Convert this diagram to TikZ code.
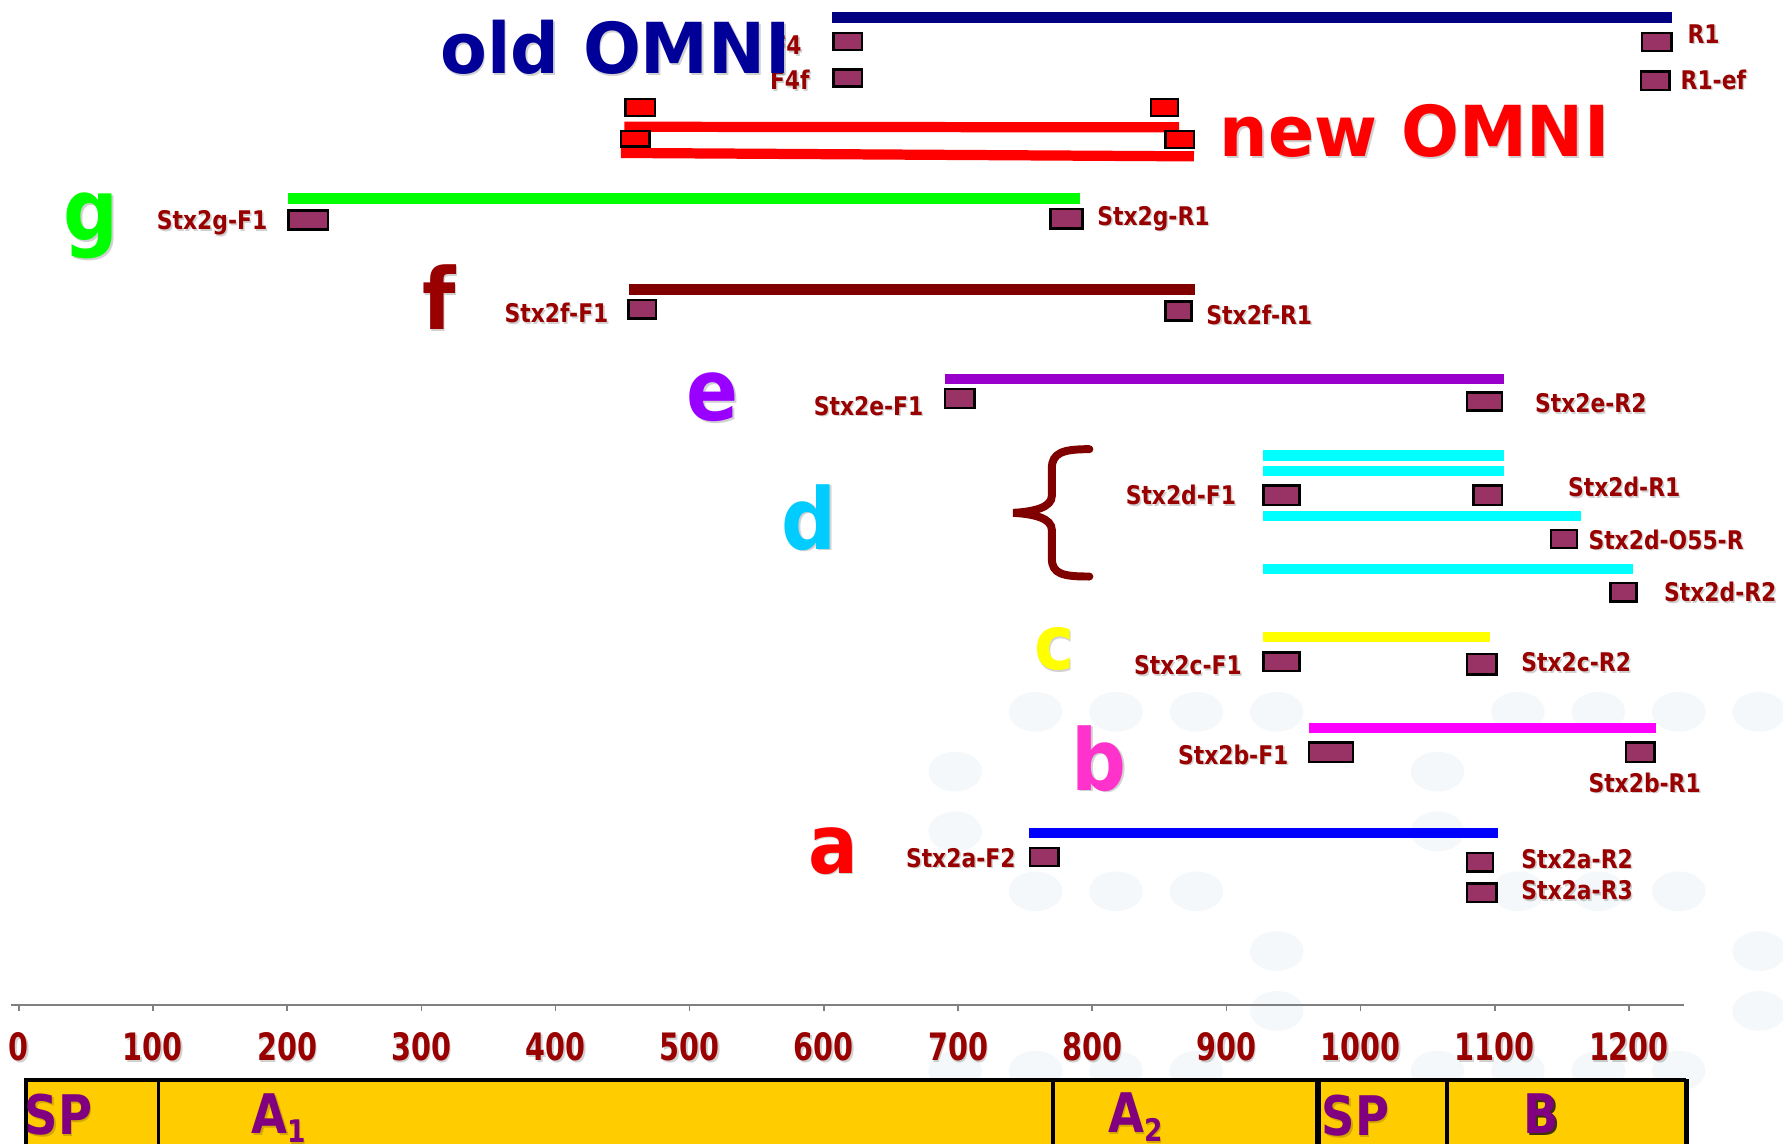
\documentclass[tikz,border=0pt]{standalone}
\usepackage{fontspec}
\usetikzlibrary{calc}
% condensed cuts of DejaVu Sans for the different text roles
\newfontfamily\lblfont[FakeStretch=0.85]{DejaVu Sans}
\newfontfamily\numfont[FakeStretch=0.76]{DejaVu Sans}
\newfontfamily\bigfont[FakeStretch=0.9]{DejaVu Sans}
\newfontfamily\ttlfont[FakeStretch=0.97]{DejaVu Sans}

\definecolor{lblred}{HTML}{990000}
\definecolor{primerfill}{HTML}{993366}
\definecolor{navyline}{HTML}{000080}
\definecolor{oldnavy}{HTML}{000099}
\definecolor{maroon}{HTML}{800000}
\definecolor{brightred}{HTML}{FF0000}
\definecolor{gcol}{HTML}{00FF00}
\definecolor{ecol}{HTML}{9900FF}
\definecolor{eline}{HTML}{9900CC}
\definecolor{dcol}{HTML}{00CCFF}
\definecolor{dline}{HTML}{00FFFF}
\definecolor{ccol}{HTML}{FFFF00}
\definecolor{bcol}{HTML}{FF33CC}
\definecolor{bline}{HTML}{FF00FF}
\definecolor{aline}{HTML}{0000FF}
\definecolor{segfill}{HTML}{FFCC00}
\definecolor{segpurple}{HTML}{800080}
\definecolor{dotbg}{RGB}{245,248,250}

% text node with a soft drop shadow: name, options, position, text
\newcommand\shtxt[4]{%
  \node[#2,shade] (#1s) at ($(#3)+(1.4,1.4)$) {#4};
  \node[#2] (#1) at (#3) {#4};}

\begin{document}
\begin{tikzpicture}[x=0.5pt,y=-0.5pt,
  txt/.style={inner sep=0pt, outer sep=0pt},
  shade/.style={text=black, opacity=0.18},
  lbl/.style={txt, text=lblred, font=\lblfont\bfseries\fontsize{11.3}{13}\selectfont},
  lblL/.style={lbl, anchor=base west},
  lblR/.style={lbl, anchor=base east},
  num/.style={txt, anchor=base, text=lblred, font=\numfont\bfseries\fontsize{16.6}{18}\selectfont},
  big/.style={txt, anchor=base, font=\bigfont\bfseries\fontsize{37.5}{40}\selectfont},
  ttl/.style={txt, anchor=base, font=\ttlfont\bfseries\fontsize{30.9}{34}\selectfont},
  seg/.style={txt, anchor=base, text=segpurple, font=\lblfont\bfseries\fontsize{24}{26}\selectfont},
  primer/.style={draw=black, line width=1.1pt, fill=primerfill},
  newprimer/.style={draw=black, line width=1.1pt, fill=brightred},
  amplicon/.style={line width=4.5pt},
  axisline/.style={draw=gray, line width=0.7pt},
  brace/.style={draw=maroon, line width=3.5pt, line cap=round},
  segline/.style={draw=black, line width=1.5pt}]

\useasboundingbox (0,0) rectangle (1568,1006);
\clip (0,0) rectangle (1568,1006);
\fill[white] (0,0) rectangle (1568,1006);

% faint dotted background pattern
\foreach \c/\r in {1/0,2/0,3/0,4/0,7/0,8/0,9/0,10/0,
                   0/1,6/1,0/2,6/2,
                   1/3,2/3,3/3,7/3,8/3,9/3,
                   4/4,10/4,4/5,10/5,
                   0/6,1/6,2/6,3/6,6/6,7/6,8/6,9/6}
  \fill[dotbg] ({840+70.7*\c},{626+52.6*\r}) ellipse [x radius=11.75pt, y radius=8.75pt];

% ---------- old OMNI ----------
\draw[amplicon, navyline, line width=4.85pt] (732,15) -- (1470,15);
\draw[primer] (733,29) rectangle (758,44);
\draw[primer] (733,61) rectangle (758,76);
\draw[primer] (1444,29) rectangle (1470,45);
\draw[primer] (1443,63) rectangle (1468,79);
\shtxt{F4l}{lblR}{705,48}{F4}
\shtxt{F4fl}{lblR}{712,79}{F4f}
\shtxt{R1l}{lblL}{1484,38}{R1}
\shtxt{R1efl}{lblL}{1478,78.5}{R1-ef}
\shtxt{oldomni}{ttl, text=oldnavy}{541.5,65}{old OMNI}

% ---------- new OMNI ----------
\draw[amplicon, brightred] (549,111.5) -- (1037,112);
\draw[amplicon, brightred] (546,134.5) -- (1050,137.5);
\draw[newprimer] (550,87) rectangle (576,102);
\draw[newprimer] (546,115) rectangle (571,129);
\draw[newprimer] (1012,87) rectangle (1036,102);
\draw[newprimer] (1025,115) rectangle (1050,130);
\shtxt{newomni}{ttl, text=brightred}{1244,137.8}{new OMNI}

% ---------- g ----------
\draw[amplicon, gcol] (253,174.5) -- (950,174.5);
\draw[primer] (253.5,185) rectangle (288.6,202);
\draw[primer] (924,184) rectangle (952,201);
\shtxt{gletter}{big, text=gcol}{80,211.5}{g}
\shtxt{gF1}{lblR}{235,202}{Stx2g-F1}
\shtxt{gR1}{lblL}{965,198}{Stx2g-R1}

% ---------- f ----------
\draw[amplicon, maroon] (553,254.5) -- (1051,254.5);
\draw[primer] (552.5,264) rectangle (577,280);
\draw[primer] (1025,265) rectangle (1048,282);
\shtxt{fletter}{big, text=lblred}{386,290}{f}
\shtxt{fF1}{lblR}{535,284}{Stx2f-F1}
\shtxt{fR1}{lblL}{1061,285}{Stx2f-R1}

% ---------- e ----------
\draw[amplicon, eline] (831,333.5) -- (1323,333.5);
\draw[primer] (831,342) rectangle (857,359);
\draw[primer] (1290,345) rectangle (1321,361);
\shtxt{eletter}{big, text=ecol}{627,370}{e}
\shtxt{eF1}{lblR}{812,365}{Stx2e-F1}
\shtxt{eR2}{lblL}{1350,363}{Stx2e-R2}

% ---------- d ----------
\draw[amplicon, dline] (1111,400.5) -- (1323,400.5);
\draw[amplicon, dline] (1111,414) -- (1323,414);
\draw[amplicon, dline] (1111,453.5) -- (1390,453.5);
\draw[amplicon, dline] (1111,500.5) -- (1436.5,500.5);
\draw[primer] (1111,427) rectangle (1143,444);
\draw[primer] (1296,427) rectangle (1321,444);
\draw[primer] (1364,466) rectangle (1387,482);
\draw[primer] (1416.5,512.6) rectangle (1439,529);
\draw[brace] (958,395) .. controls (935,395) and (925,398) .. (925,412)
  -- (925,436) .. controls (925,446) and (910,450) .. (891,451)
  .. controls (910,452) and (925,456) .. (925,466)
  -- (925,491) .. controls (925,505) and (935,507) .. (958,507);
\shtxt{dletter}{big, text=dcol}{711.5,483}{d}
\shtxt{dF1}{lblR}{1087,444}{Stx2d-F1}
\shtxt{dR1}{lblL}{1379,437}{Stx2d-R1}
\shtxt{dO55}{lblL}{1397,483}{Stx2d-O55-R}
\shtxt{dR2}{lblL}{1463.5,529}{Stx2d-R2}

% ---------- c ----------
\draw[amplicon, ccol] (1111,560) -- (1310,560);
\draw[primer] (1111,574) rectangle (1143,590);
\draw[primer] (1290,575) rectangle (1316,593);
\shtxt{cletter}{big, text=ccol, font=\bigfont\bfseries\fontsize{33}{36}\selectfont}{927,589}{c}
\shtxt{cF1}{lblR}{1092,593.5}{Stx2c-F1}
\shtxt{cR2}{lblL}{1338,590.5}{Stx2c-R2}

% ---------- b ----------
\draw[amplicon, bline] (1151,640) -- (1456,640);
\draw[primer] (1151,653) rectangle (1190,670);
\draw[primer] (1430,653) rectangle (1455,670);
\shtxt{bletter}{big, text=bcol}{966.5,695}{b}
\shtxt{bF1}{lblR}{1133,672}{Stx2b-F1}
\shtxt{bR1}{lblL}{1397,696.5}{Stx2b-R1}

% ---------- a ----------
\draw[amplicon, aline] (904.6,732.5) -- (1317,732.5);
\draw[primer] (905.6,745.6) rectangle (931,761.7);
\draw[primer] (1290,750) rectangle (1313,766.5);
\draw[primer] (1290,777) rectangle (1316,793.4);
\shtxt{aletter}{big, text=brightred, font=\bigfont\bfseries\fontsize{36}{38}\selectfont}{732.5,768}{a}
\shtxt{aF2}{lblR}{893,762.5}{Stx2a-F2}
\shtxt{aR2}{lblL}{1338,763.5}{Stx2a-R2}
\shtxt{aR3}{lblL}{1338,791}{Stx2a-R3}

% ---------- scale ----------
\draw[axisline] (10,884) -- (1481,884);
\foreach \u in {0,100,...,1200} {
  \draw[axisline] ({16.5+1.18*\u},884) -- ++(0,5);
  \shtxt{t\u}{num}{{16.5+1.18*\u},932.8}{\u}
}

% ---------- gene segments ----------
\fill[segfill] (22.7,950) rectangle (1483,1012);
\draw[black, line width=1.8pt] (22.7,1012) -- (22.7,950) -- (1483,950);
\draw[black, line width=2.5pt] (1483,949) -- (1483,1012);
\draw[segline] (139.3,950) -- (139.3,1012);
\draw[segline] (926,950) -- (926,1012);
\draw[segline, line width=3pt] (1159,950) -- (1159,1012);
\draw[segline] (1272.6,950) -- (1272.6,1012);
\shtxt{sp1}{seg}{51.5,998}{SP}
\shtxt{a1}{seg}{245,997}{A\raisebox{-4pt}{\fontsize{13.7}{14}\selectfont 1}}
\shtxt{a2}{seg}{998.5,996}{A\raisebox{-4pt}{\fontsize{13.7}{14}\selectfont 2}}
\shtxt{sp2}{seg}{1192,999}{SP}
\node[seg, text=black, opacity=0.75] (bsegs) at (1357.5,998.5) {B};
\node[seg] (bseg) at (1355,996.5) {B};
\end{tikzpicture}
\end{document}
